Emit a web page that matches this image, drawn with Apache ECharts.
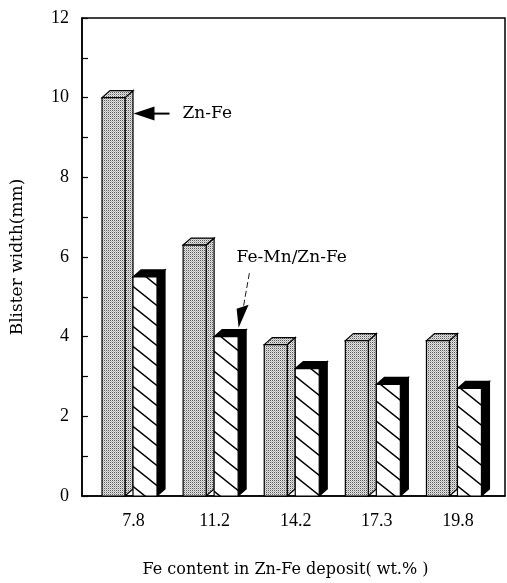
<!DOCTYPE html>
<html>
<head>
<meta charset="utf-8">
<script src="https://cdn.jsdelivr.net/npm/echarts@6/dist/echarts.min.js"></script>
<style>
  html, body { margin: 0; padding: 0; background: #fff; }
  #chart { width: 507px; height: 583px; }
</style>
</head>
<body>
<div id="chart"></div>
<script>
// data
const feContent = ['7.8', '11.2', '14.2', '17.3', '19.8'];
const znFe = [10.0, 6.3, 3.8, 3.9, 3.9];
const feMnZnFe = [5.5, 4.0, 3.2, 2.8, 2.7];
const yTicks = [0, 2, 4, 6, 8, 10, 12];

const serif = '"DejaVu Serif", serif';
const numFont = '"Liberation Serif", serif';

// stipple pattern for the Zn-Fe bars
function makeStipple() {
  const c = document.createElement('canvas');
  c.width = 2; c.height = 2;
  const ctx = c.getContext('2d');
  ctx.fillStyle = '#e4e4e4';
  ctx.fillRect(0, 0, 2, 2);
  ctx.fillStyle = '#5a5a5a';
  ctx.fillRect(0, 0, 1, 1);
  ctx.fillStyle = '#b4b4b4';
  ctx.fillRect(1, 1, 1, 1);
  return c;
}
// "\" hatch for the Fe-Mn/Zn-Fe bars
function makeHatch() {
  const c = document.createElement('canvas');
  c.width = 25; c.height = 20;
  const ctx = c.getContext('2d');
  ctx.fillStyle = '#fff';
  ctx.fillRect(0, 0, 25, 20);
  ctx.strokeStyle = '#000';
  ctx.lineWidth = 1.4;
  ctx.beginPath();
  [-20, 0, 20].forEach(o => {
    ctx.moveTo(-5, -4 + o); ctx.lineTo(30, 24 + o);
  });
  ctx.stroke();
  return c;
}
const stipple = { image: makeStipple(), repeat: 'repeat' };
const hatch = { image: makeHatch(), repeat: 'repeat' };

const DX = 8, DY = 7; // depth of the 3d boxes

// one 3d box per data item; off = left edge of front face from group centre
function boxRenderer(off, w, frontFill, sideFill, topFill) {
  return function (params, api) {
    const top = api.coord([api.value(0), api.value(1)]);
    const base = api.coord([api.value(0), 0]);
    const fl = top[0] + off, fr = fl + w;
    const ty = top[1], by = base[1];
    const line = { stroke: '#000', lineWidth: 1.2 };
    return {
      type: 'group',
      children: [
        {
          type: 'polygon',
          shape: { points: [[fr, ty], [fr + DX, ty - DY], [fr + DX, by - DY], [fr, by]] },
          style: Object.assign({ fill: sideFill }, line)
        },
        {
          type: 'polygon',
          shape: { points: [[fl, ty], [fl + DX, ty - DY], [fr + DX, ty - DY], [fr, ty]] },
          style: Object.assign({ fill: topFill }, line)
        },
        {
          type: 'rect',
          shape: { x: fl, y: ty, width: w, height: by - ty },
          style: Object.assign({ fill: frontFill }, line)
        }
      ]
    };
  };
}

const chart = echarts.init(document.getElementById('chart'));

const option = {
  backgroundColor: '#fff',
  animation: false,
  grid: {
    left: 82, right: 2, top: 18, bottom: 86,
    show: true, borderColor: '#000', borderWidth: 1.5
  },
  xAxis: {
    type: 'value',
    min: -0.635,
    max: 4.58,
    name: 'Fe content in Zn-Fe deposit( wt.% )',
    nameLocation: 'middle',
    nameGap: 66,
    nameTextStyle: { fontFamily: serif, fontSize: 16, color: '#000', padding: [0, 16, 0, 0] },
    axisLine: { show: true, onZero: false, lineStyle: { color: '#000', width: 1.5 } },
    axisTick: { show: false },
    splitLine: { show: false },
    axisLabel: {
      customValues: [0, 1, 2, 3, 4],
      formatter: v => feContent[Math.round(v)],
      fontFamily: numFont, fontSize: 18, color: '#000', margin: 16
    }
  },
  yAxis: {
    type: 'value',
    min: 0,
    max: 12,
    interval: 1, // a tick at every unit, labels only on the even ones
    name: 'Blister width(mm)',
    nameLocation: 'middle',
    nameGap: 56,
    nameTextStyle: { fontFamily: serif, fontSize: 17, color: '#000' },
    axisLine: { show: true, onZero: false, lineStyle: { color: '#000', width: 1.5 } },
    axisTick: { show: true, inside: true, length: 6, lineStyle: { color: '#000', width: 1.2 } },
    splitLine: { show: false },
    axisLabel: {
      customValues: yTicks,
      fontFamily: numFont, fontSize: 18, color: '#000', margin: 13
    }
  },
  series: [
    {
      name: 'Zn-Fe',
      type: 'custom',
      renderItem: boxRenderer(-31.5, 23, stipple, stipple, stipple),
      encode: { x: 0, y: 1 },
      data: znFe.map((v, i) => [i, v])
    },
    {
      name: 'Fe-Mn/Zn-Fe',
      type: 'custom',
      renderItem: boxRenderer(-0.5, 24, hatch, '#000', '#000'),
      encode: { x: 0, y: 1 },
      data: feMnZnFe.map((v, i) => [i, v])
    }
  ]
};
chart.setOption(option);

// annotations anchored to the bars
const pZn = chart.convertToPixel({ gridIndex: 0 }, [0, 9.6]);
const pMn = chart.convertToPixel({ gridIndex: 0 }, [1, feMnZnFe[1]]);
const tipX = pMn[0] + 24, tipY = pMn[1] - 9;
chart.setOption({
  graphic: [
    {
      type: 'polygon',
      shape: { points: [[pZn[0], pZn[1]], [pZn[0] + 21, pZn[1] - 7], [pZn[0] + 21, pZn[1] + 7]] },
      style: { fill: '#000' }
    },
    {
      type: 'line',
      shape: { x1: pZn[0] + 20, y1: pZn[1], x2: pZn[0] + 36, y2: pZn[1] },
      style: { stroke: '#000', lineWidth: 2 }
    },
    {
      type: 'text',
      x: pZn[0] + 49, y: pZn[1],
      style: { text: 'Zn-Fe', font: '17px ' + serif, fill: '#000', verticalAlign: 'middle' }
    },
    {
      type: 'polygon',
      shape: { points: [[tipX, tipY], [tipX - 2, tipY - 19], [tipX + 10, tipY - 23]] },
      style: { fill: '#000' }
    },
    {
      type: 'line',
      shape: { x1: tipX + 5, y1: tipY - 22, x2: tipX + 11, y2: tipY - 56 },
      style: { stroke: '#000', lineWidth: 0.9, lineDash: [6, 3] }
    },
    {
      type: 'text',
      x: tipX - 2, y: tipY - 70,
      style: { text: 'Fe-Mn/Zn-Fe', font: '17px ' + serif, fill: '#000', verticalAlign: 'middle' }
    }
  ]
});
</script>
</body>
</html>
